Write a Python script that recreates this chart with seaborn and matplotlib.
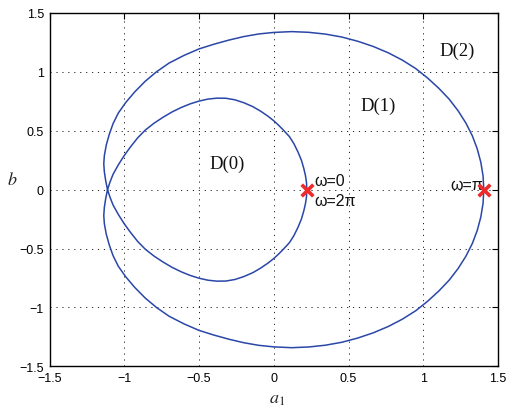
import matplotlib
matplotlib.use("Agg")
import matplotlib.pyplot as plt
import seaborn as sns
import pandas as pd

# ---- data ----
# inner loop, upper arc: from the omega=0 point to the self-crossing
inner_upper_a = [0.221, 0.219, 0.212, 0.201, 0.185, 0.162, 0.135, 0.105, 0.065, 0.030,
                 0.000, -0.040, -0.090, -0.140, -0.200, -0.260, -0.320, -0.380, -0.440, -0.500,
                 -0.560, -0.620, -0.680, -0.740, -0.800, -0.860, -0.910, -0.960, -1.000, -1.040,
                 -1.075, -1.095, -1.112]
inner_upper_b = [0.000, 0.060, 0.120, 0.180, 0.250, 0.320, 0.390, 0.450, 0.505, 0.550,
                 0.585, 0.625, 0.668, 0.705, 0.738, 0.763, 0.776, 0.777, 0.769, 0.752,
                 0.728, 0.697, 0.660, 0.615, 0.565, 0.505, 0.440, 0.360, 0.290, 0.210,
                 0.130, 0.065, 0.000]

# outer loop, upper arc: from the omega=pi point to the self-crossing
outer_upper_a = [1.405, 1.400, 1.385, 1.361, 1.328, 1.285, 1.233, 1.173, 1.104, 1.029,
                 0.950, 0.860, 0.766, 0.665, 0.562, 0.455, 0.345, 0.233, 0.120, 0.000,
                 -0.100, -0.200, -0.300, -0.400, -0.500, -0.600, -0.700, -0.785, -0.860, -0.930,
                 -0.990, -1.040, -1.075, -1.100, -1.120, -1.133, -1.137, -1.133, -1.124, -1.112]
outer_upper_b = [0.000, 0.117, 0.233, 0.347, 0.458, 0.566, 0.670, 0.769, 0.861, 0.948,
                 1.028, 1.100, 1.162, 1.216, 1.260, 1.296, 1.321, 1.336, 1.342, 1.335,
                 1.322, 1.300, 1.270, 1.235, 1.195, 1.140, 1.075, 1.000, 0.920, 0.830,
                 0.740, 0.650, 0.560, 0.470, 0.380, 0.290, 0.220, 0.150, 0.075, 0.000]

# outer loop, lower arc: from the self-crossing to the omega=pi point
outer_lower_a = [-1.112, -1.124, -1.133, -1.137, -1.133, -1.120, -1.100, -1.075, -1.040, -0.990,
                 -0.930, -0.860, -0.785, -0.700, -0.600, -0.500, -0.400, -0.300, -0.200, -0.100,
                 0.000, 0.120, 0.233, 0.345, 0.455, 0.562, 0.665, 0.766, 0.860, 0.950,
                 1.029, 1.104, 1.173, 1.233, 1.285, 1.328, 1.361, 1.385, 1.400, 1.405]
outer_lower_b = [0.000, -0.075, -0.150, -0.220, -0.290, -0.380, -0.470, -0.560, -0.650, -0.740,
                 -0.830, -0.920, -1.000, -1.075, -1.140, -1.195, -1.235, -1.270, -1.300, -1.322,
                 -1.335, -1.342, -1.336, -1.321, -1.296, -1.260, -1.216, -1.162, -1.100, -1.028,
                 -0.948, -0.861, -0.769, -0.670, -0.566, -0.458, -0.347, -0.233, -0.117, 0.000]

# inner loop, lower arc: from the self-crossing back to the omega=2pi point
inner_lower_a = [-1.112, -1.095, -1.075, -1.040, -1.000, -0.960, -0.910, -0.860, -0.800, -0.740,
                 -0.680, -0.620, -0.560, -0.500, -0.440, -0.380, -0.320, -0.260, -0.200, -0.140,
                 -0.090, -0.040, 0.000, 0.030, 0.065, 0.105, 0.135, 0.162, 0.185, 0.201,
                 0.212, 0.219, 0.221]
inner_lower_b = [0.000, -0.065, -0.130, -0.210, -0.290, -0.360, -0.440, -0.505, -0.565, -0.615,
                 -0.660, -0.697, -0.728, -0.752, -0.769, -0.777, -0.776, -0.763, -0.738, -0.705,
                 -0.668, -0.625, -0.585, -0.550, -0.505, -0.450, -0.390, -0.320, -0.250, -0.180,
                 -0.120, -0.060, 0.000]

marker_a = [0.221, 1.405]
marker_b = [0.0, 0.0]

tick_vals = [-1.5, -1.0, -0.5, 0.0, 0.5, 1.0, 1.5]
tick_labels = ["\u22121.5", "\u22121", "\u22120.5", "0", "0.5", "1", "1.5"]

region_labels = ["D(0)", "D(1)", "D(2)"]
region_a = [-0.31, 0.70, 1.23]
region_b = [0.227, 0.713, 1.18]

# ---- figure ----
sns.set_style("white")
plt.rcParams["font.family"] = ["Liberation Sans", "DejaVu Sans"]
plt.rcParams["mathtext.fontset"] = "stix"

W, H = 509, 410
fig = plt.figure(figsize=(W / 100, H / 100), dpi=100)
ax = fig.add_axes([49.5 / W, 1 - 367.3 / H, (498 - 49.5) / W, (367.3 - 14) / H])

curve = pd.DataFrame({
    "a1": inner_upper_a + outer_lower_a[1:] + outer_upper_a[1:] + inner_lower_a[1:],
    "b": inner_upper_b + outer_lower_b[1:] + outer_upper_b[1:] + inner_lower_b[1:],
})

sns.lineplot(data=curve, x="a1", y="b", sort=False, estimator=None,
             color="#2a47a8", linewidth=1.1, ax=ax)

marks = pd.DataFrame({"a1": marker_a, "b": marker_b})
sns.scatterplot(data=marks, x="a1", y="b", marker="x", s=70, linewidth=2.6,
                color="#ee2a2a", ax=ax, zorder=5)

ax.set_xlim(-1.5, 1.5)
ax.set_ylim(-1.5, 1.5)
ax.set_xticks(tick_vals)
ax.set_yticks(tick_vals)
ax.set_xticklabels(tick_labels)
ax.set_yticklabels(tick_labels)
ax.tick_params(direction="in", length=4, width=0.8, top=True, right=True,
               labelsize=9, colors="black", pad=4)
ax.set_xlabel("")
ax.set_ylabel("")
for sp in ax.spines.values():
    sp.set_visible(True)
    sp.set_color("black")
    sp.set_linewidth(1.0)

ax.grid(True, color="#222222", linewidth=0.7, linestyle=(0, (1.2, 4.9)))
ax.set_axisbelow(True)

for lab, xa, yb in zip(region_labels, region_a, region_b):
    ax.text(xa, yb, lab, ha="center", va="center", fontsize=13.5,
            family="Liberation Serif", color="#111111")

ax.text(0.27, 0.076, "\u03c9=0", ha="left", va="center", fontsize=11.5, color="#111111")
ax.text(0.27, -0.09, "\u03c9=2\u03c0", ha="left", va="center", fontsize=11.5, color="#111111")
ax.text(1.40, 0.04, "\u03c9=\u03c0", ha="right", va="center", fontsize=11.5, color="#111111")

fig.text(12 / W, 1 - 181 / H, "$b$", ha="center", va="center", fontsize=13)
fig.text(277 / W, 1 - 400 / H, "$a_1$", ha="center", va="center", fontsize=13)

fig.savefig("out.png", dpi=100)
